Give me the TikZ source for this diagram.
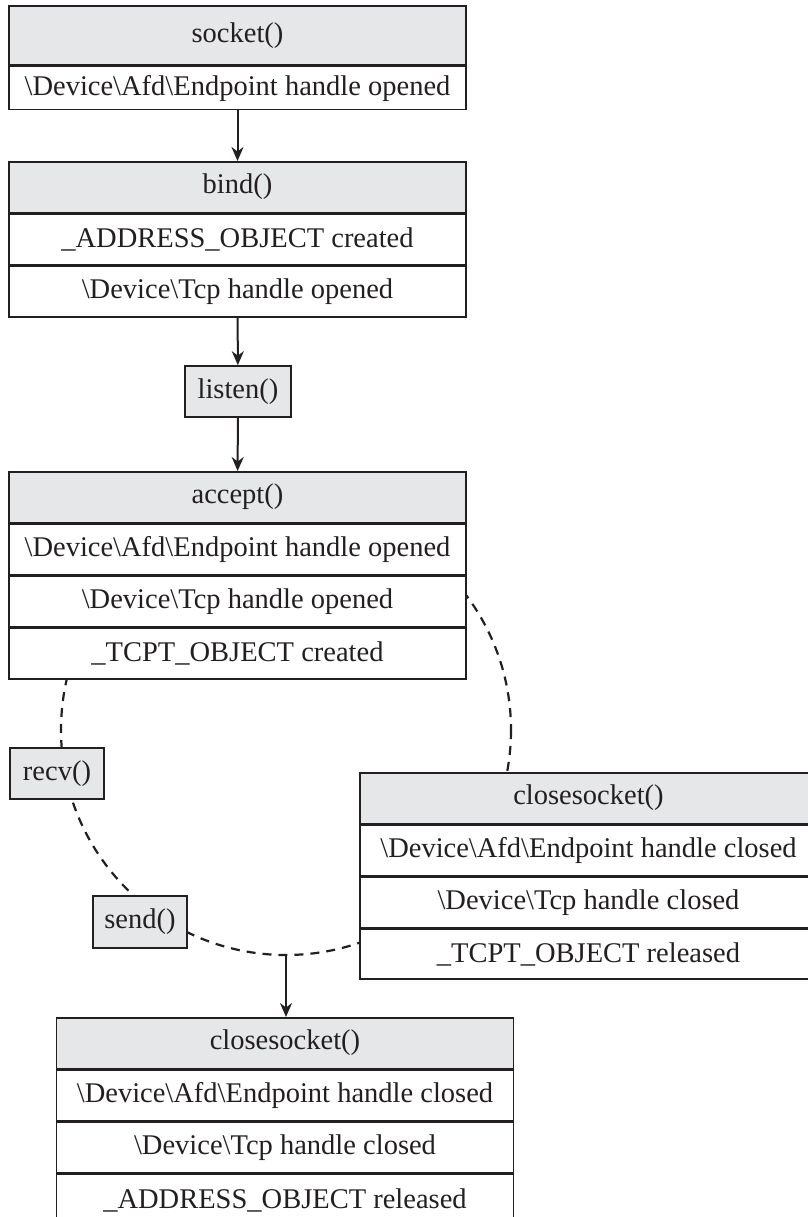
\documentclass[tikz,border=0pt]{standalone}
\usepackage{fontspec}
\setmainfont{Liberation Serif}
\usetikzlibrary{positioning, arrows.meta}
\definecolor{ink}{RGB}{35, 31, 32}
\definecolor{headfill}{RGB}{230, 231, 232}
\newcommand{\dev}[1]{\textbackslash Device\textbackslash #1}

\begin{document}
\begin{tikzpicture}[
	x=1pt, y=-1pt,
	font=\fontsize{28.5}{34}\selectfont,
	% Styles for the call boxes and their rows
	callhead/.style={draw=ink, line width=1.7pt, fill=headfill, text=ink, minimum width=457pt, minimum height=50.5pt, inner sep=0pt},
	callrow/.style={draw=ink, line width=1.7pt, fill=white, text=ink, minimum width=457pt, minimum height=50.5pt, inner sep=0pt},
	callsmall/.style={draw=ink, line width=1.7pt, fill=headfill, text=ink, minimum width=94pt, minimum height=51pt, inner sep=0pt},
	flow/.style={draw=ink, line width=2pt, -{Stealth[length=14pt, width=12pt]}},
	loopline/.style={draw=ink, line width=2.2pt, dash pattern=on 9pt off 7pt}
	]
	\useasboundingbox (0, 0) rectangle (807, 1217);
	
	% ==========================================
	% 1. DASHED LOOP (behind the boxes)
	% ==========================================
	\coordinate (hub) at (286, 730);
	\coordinate (merge) at (286, 955);
	\draw[loopline] (hub) circle[radius=225];
	
	% ==========================================
	% 2. SOCKET, BIND, LISTEN
	% ==========================================
	\node[callhead, anchor=north, minimum height=59pt] (sockethd) at (237.5, 5) {socket()};
	\node[callrow, below=0pt of sockethd, minimum height=43pt] (socketa) {\dev{Afd\textbackslash Endpoint} handle opened};
	
	\node[callhead, anchor=north] (bindhd) at (237.5, 161) {bind()};
	\node[callrow, below=0pt of bindhd] (binda) {\_ADDRESS\_OBJECT created};
	\node[callrow, below=0pt of binda] (bindb) {\dev{Tcp} handle opened};
	
	\node[callsmall, minimum width=106pt] (listen) at (238, 391.5) {listen()};
	
	% ==========================================
	% 3. ACCEPT
	% ==========================================
	\node[callhead, anchor=north] (accepthd) at (237.5, 471) {accept()};
	\node[callrow, below=0pt of accepthd] (accepta) {\dev{Afd\textbackslash Endpoint} handle opened};
	\node[callrow, below=0pt of accepta] (acceptb) {\dev{Tcp} handle opened};
	\node[callrow, below=0pt of acceptb] (acceptc) {\_TCPT\_OBJECT created};
	
	% Data transfer calls sitting on the loop
	\node[callsmall] (recv) at (57, 773.5) {recv()};
	\node[callsmall, minimum height=52pt] (send) at (140, 922) {send()};
	
	% ==========================================
	% 4. CLOSESOCKET ON THE ACCEPTED SOCKET
	% ==========================================
	\node[callhead, anchor=north] (closehd) at (588.5, 772) {closesocket()};
	\node[callrow, below=0pt of closehd] (closea) {\dev{Afd\textbackslash Endpoint} handle closed};
	\node[callrow, below=0pt of closea] (closeb) {\dev{Tcp} handle closed};
	\node[callrow, below=0pt of closeb, minimum height=49.5pt] (closec) {\_TCPT\_OBJECT released};
	
	% ==========================================
	% 5. CLOSESOCKET ON THE LISTENING SOCKET
	% ==========================================
	\node[callhead, anchor=north] (finalhd) at (285, 1017) {closesocket()};
	\node[callrow, below=0pt of finalhd] (finala) {\dev{Afd\textbackslash Endpoint} handle closed};
	\node[callrow, below=0pt of finala] (finalb) {\dev{Tcp} handle closed};
	\node[callrow, below=0pt of finalb, minimum height=52pt] (finalc) {\_ADDRESS\_OBJECT released};
	
	% Solid arrows
	\draw[flow] (socketa) -- (bindhd);
	\draw[flow] (bindb) -- (listen);
	\draw[flow] (listen) -- (accepthd);
	\draw[flow] (merge) -- (merge |- finalhd.north);
	
\end{tikzpicture}
\end{document}
